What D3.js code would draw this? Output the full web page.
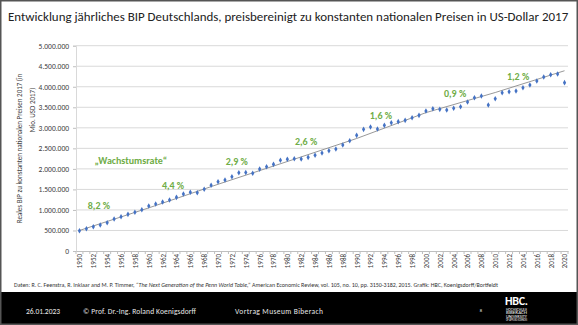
<!DOCTYPE html>
<html>
<head>
<meta charset="utf-8">
<script src="https://cdn.jsdelivr.net/npm/d3@7"></script>
<style>
  body { margin: 0; background: #fff; }
  text { font-family: Carlito, "Liberation Sans", Arial, sans-serif; }
</style>
</head>
<body>
<script>
// Jahre (Kategorien) und reales BIP in Mio. USD 2017
const years = d3.range(1950, 2021);
const gdp = [
  494000, 543000, 592000, 633000, 690000, 780000, 835000, 893000, 942000, 1006000,
  1096000, 1145000, 1193000, 1242000, 1307000, 1388000, 1430000, 1420000, 1502000, 1600000,
  1688000, 1729000, 1810000, 1907000, 1910000, 1892000, 1995000, 2053000, 2110000, 2210000,
  2233000, 2248000, 2241000, 2281000, 2330000, 2387000, 2443000, 2484000, 2582000, 2687000,
  2817000, 2963000, 3020000, 2971000, 3060000, 3125000, 3150000, 3182000, 3247000, 3304000,
  3410000, 3466000, 3450000, 3434000, 3475000, 3515000, 3629000, 3734000, 3775000, 3556000,
  3710000, 3855000, 3880000, 3897000, 3977000, 4043000, 4140000, 4238000, 4294000, 4311000,
  4100000
];
// Trendlinie (grau)
const trendYears  = [1950, 1960, 1970, 1980, 1990, 2000, 2010, 2020];
const trendValues = [500000, 1050000, 1625000, 2180000, 2740000, 3370000, 3860000, 4390000];
// Wachstumsraten-Beschriftungen
const noteTexts  = ["\u201EWachstumsrate\u201C", "8,2 %", "4,4 %", "2,9 %", "2,6 %", "1,6 %", "0,9 %", "1,2 %"];
const noteYears  = [1957.4, 1952.8, 1963.5, 1972.7, 1982.7, 1993.5, 2004.2, 2013.3];
const noteValues = [2216000, 1120000, 1607000, 2168000, 2679000, 3288000, 3824000, 4238000];
const yTicks = d3.range(0, 5000001, 500000);
const xTicks = d3.range(1950, 2021, 2);

const W = 578, H = 325;
const plot = {left: 76, right: 568, top: 45.7, bottom: 251};
const green = "#70AD47";
const blue  = "#4472C4";

const de = d3.formatLocale({decimal: ",", thousands: ".", grouping: [3], currency: ["", " €"]});
const fmt = de.format(",d");

const svg = d3.select("body").append("svg")
  .attr("width", W)
  .attr("height", H);

svg.append("rect").attr("width", W).attr("height", H).attr("fill", "#fff");

const xScale = d3.scaleLinear().domain([1949.5, 2020.5]).range([plot.left, plot.right]);
const yScale = d3.scaleLinear().domain([0, 5000000]).range([plot.bottom, plot.top]);

// Titel: Schriftgröße so wählen, dass er 561 px breit ist
const title = svg.append("text")
  .attr("x", 8).attr("y", 21)
  .attr("font-size", 14)
  .attr("fill", "#222")
  .text("Entwicklung jährliches BIP Deutschlands, preisbereinigt zu konstanten nationalen Preisen in US-Dollar 2017");
const tlen = title.node().getComputedTextLength();
title.attr("font-size", Math.min(15, 14 * 561 / tlen));

// Gitterlinien
svg.append("g")
  .selectAll("line")
  .data(yTicks.filter(d => d > 0))
  .join("line")
  .attr("x1", plot.left).attr("x2", plot.right)
  .attr("y1", d => yScale(d)).attr("y2", d => yScale(d))
  .attr("stroke", "#d9d9d9")
  .attr("stroke-width", 1);

// y-Achse
const yAxis = d3.axisLeft(yScale).tickValues(yTicks).tickFormat(fmt).tickSize(3).tickPadding(4);
const gy = svg.append("g")
  .attr("transform", `translate(${plot.left},0)`)
  .call(yAxis);
gy.select(".domain").attr("stroke", "#d9d9d9");
gy.selectAll(".tick line").attr("stroke", "#bfbfbf");
gy.selectAll(".tick text").attr("fill", "#404040").attr("font-size", 7.5)
  .style("font-family", 'Carlito, "Liberation Sans", Arial, sans-serif');

// x-Achse
const xAxis = d3.axisBottom(xScale).tickValues(xTicks).tickFormat(d3.format("d")).tickSize(0).tickPadding(3);
const gx = svg.append("g")
  .attr("transform", `translate(0,${plot.bottom})`)
  .call(xAxis);
gx.select(".domain").attr("stroke", "#bfbfbf");
gx.selectAll(".tick text")
  .attr("fill", "#404040").attr("font-size", 7)
  .style("font-family", 'Carlito, "Liberation Sans", Arial, sans-serif')
  .attr("transform", "rotate(-90)")
  .attr("text-anchor", "end")
  .attr("x", -3).attr("y", 0).attr("dy", "0.35em");

// Teilstriche zwischen den Kategorien
svg.append("g")
  .selectAll("line")
  .data(d3.range(1949.5, 2021, 1))
  .join("line")
  .attr("x1", d => xScale(d)).attr("x2", d => xScale(d))
  .attr("y1", plot.bottom).attr("y2", plot.bottom + 3)
  .attr("stroke", "#bfbfbf");

// y-Achsentitel
const yTitle = svg.append("g").attr("fill", "#404040").attr("font-size", 7);
yTitle.append("text")
  .attr("transform", "translate(21.5,148.5) rotate(-90)")
  .attr("text-anchor", "middle")
  .text("Reales BIP zu konstanten nationalen Preisen 2017 (in");
yTitle.append("text")
  .attr("transform", "translate(34.5,110) rotate(-90)")
  .attr("text-anchor", "middle")
  .text("Mio. USD 2017)");

// Trendlinie
const trendLine = d3.line()
  .x((d, i) => xScale(trendYears[i]))
  .y(d => yScale(d));
svg.append("path")
  .datum(trendValues)
  .attr("d", trendLine)
  .attr("fill", "none")
  .attr("stroke", "#8c8c8c")
  .attr("stroke-width", 0.9);

// Datenpunkte
const marker = d3.symbol().type(d3.symbolDiamond).size(9);
svg.append("g")
  .selectAll("path")
  .data(gdp)
  .join("path")
  .attr("d", marker)
  .attr("transform", (d, i) => `translate(${xScale(years[i])},${yScale(d)})`)
  .attr("fill", blue);

// Wachstumsraten
svg.append("g")
  .selectAll("text")
  .data(noteTexts)
  .join("text")
  .attr("x", (d, i) => xScale(noteYears[i]))
  .attr("y", (d, i) => yScale(noteValues[i]))
  .attr("dy", "0.35em")
  .attr("text-anchor", "middle")
  .attr("font-size", 10)
  .attr("font-weight", 600)
  .attr("fill", green)
  .text(d => d);

// Quellenangabe
const src = svg.append("text")
  .attr("x", 14).attr("y", 287)
  .attr("font-size", 5.6)
  .attr("fill", "#333")
  .attr("textLength", 484)
  .attr("lengthAdjust", "spacingAndGlyphs");
src.append("tspan").text("Daten: R. C. Feenstra, R. Inklaar and M. P. Timmer, ");
src.append("tspan").attr("font-style", "italic").text("\u201CThe Next Generation of the Penn World Table,\u201D");
src.append("tspan").text(" American Economic Review, vol. 105, no. 10, pp. 3150-3182, 2015. Grafik: HBC, Koenigsdorff/Bortfeldt");

// Fußzeile
svg.append("rect").attr("x", 0).attr("y", 292).attr("width", W).attr("height", H - 292).attr("fill", "#000");
const foot = svg.append("g").attr("fill", "#e8e8e8").attr("font-size", 7.5);
foot.append("text").attr("x", 26).attr("y", 313.5).attr("textLength", 34).text("26.01.2023");
foot.append("text").attr("x", 83).attr("y", 313.5).attr("textLength", 113).text("\u00A9 Prof. Dr.-Ing. Roland Koenigsdorff");
foot.append("text").attr("x", 235).attr("y", 313.5).attr("textLength", 88).text("Vortrag Museum Biberach");
foot.append("text").attr("x", 481).attr("y", 312).attr("font-size", 4.5).attr("text-anchor", "middle").text("8");

// Logo
const logo = svg.append("g").attr("fill", "#fff");
logo.append("text").attr("x", 505).attr("y", 305).attr("font-size", 12).attr("font-weight", 700)
  .attr("textLength", 23).text("HBC.");
const sub = ["HOCHSCHULE", "BIBERACH", "UNIVERSITY", "OF APPLIED SCIENCES"];
logo.selectAll(".sub")
  .data(sub)
  .join("text")
  .attr("class", "sub")
  .attr("x", 506)
  .attr("y", (d, i) => 311 + i * 3.3)
  .attr("font-size", 3)
  .attr("textLength", 21)
  .attr("lengthAdjust", "spacingAndGlyphs")
  .text(d => d);

// Rahmen
svg.append("rect")
  .attr("x", 0.75).attr("y", 0.75)
  .attr("width", W - 1.5).attr("height", H - 1.5)
  .attr("fill", "none")
  .attr("stroke", "#555")
  .attr("stroke-width", 1.5);
</script>
</body>
</html>
